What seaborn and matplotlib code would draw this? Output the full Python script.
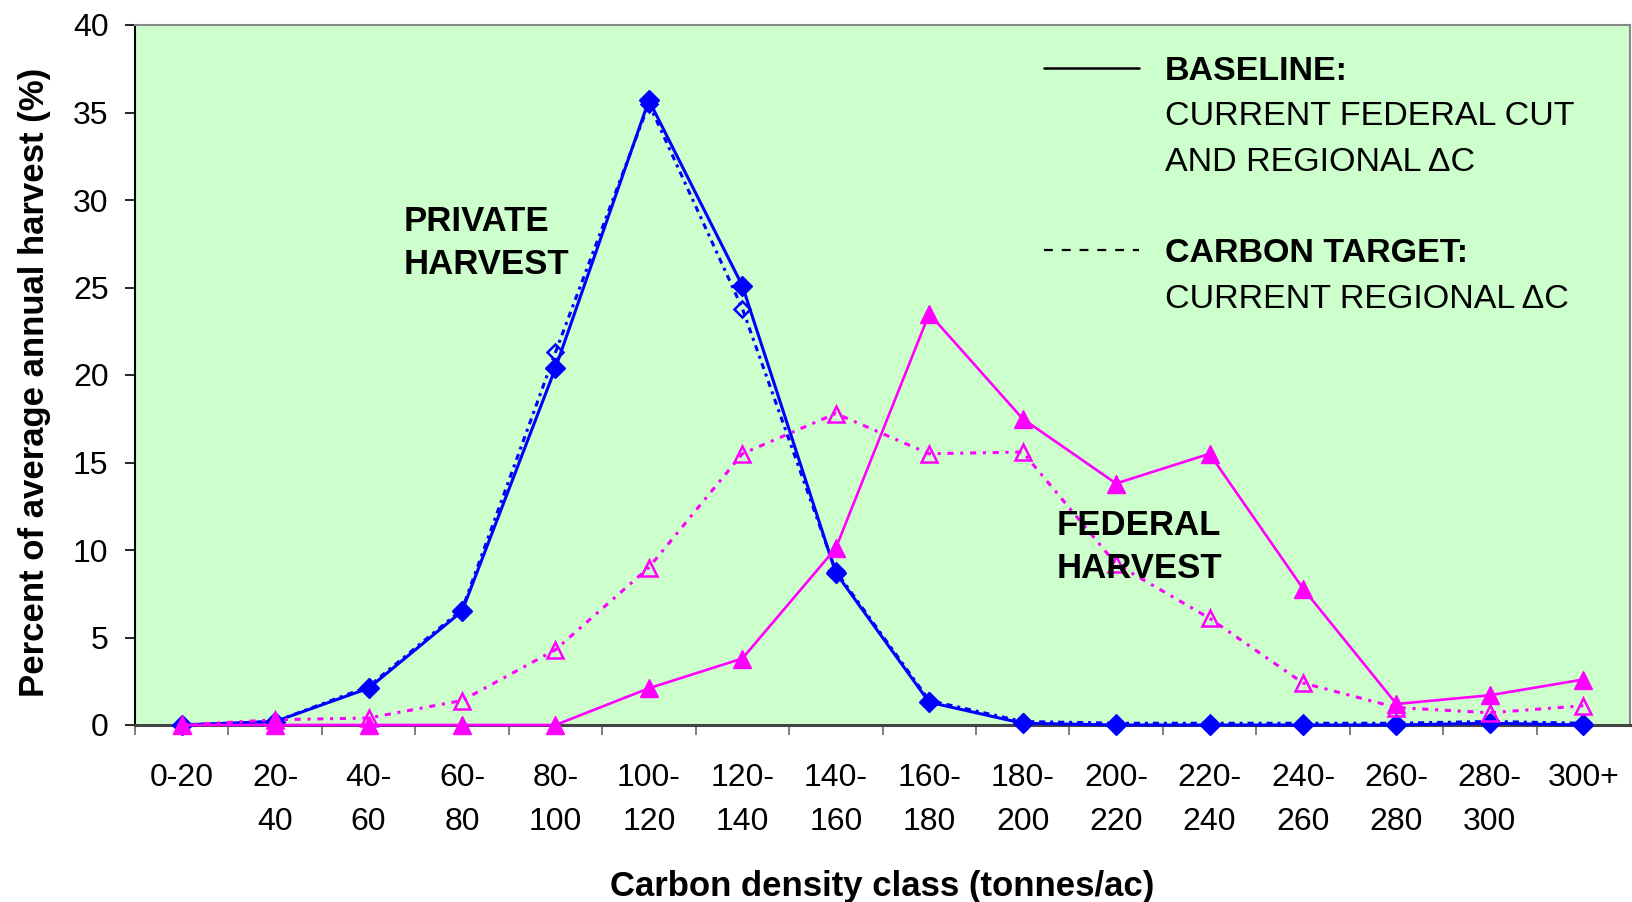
import numpy as np
import matplotlib
matplotlib.use("Agg")
import matplotlib.pyplot as plt
import seaborn as sns
from matplotlib.lines import Line2D

# ---------------- data ----------------
classes = ["0-20", "20-\n40", "40-\n60", "60-\n80", "80-\n100", "100-\n120", "120-\n140",
           "140-\n160", "160-\n180", "180-\n200", "200-\n220", "220-\n240", "240-\n260",
           "260-\n280", "280-\n300", "300+"]
private_baseline = [0.0, 0.2, 2.1, 6.5, 20.4, 35.7, 25.1, 8.7, 1.3, 0.1, 0.0, 0.0, 0.0, 0.0, 0.1, 0.0]
private_carbon = [0.0, 0.2, 2.2, 6.6, 21.3, 35.5, 23.8, 8.8, 1.4, 0.2, 0.1, 0.1, 0.1, 0.1, 0.2, 0.1]
federal_baseline = [0.0, 0.0, 0.0, 0.0, 0.0, 2.1, 3.8, 10.1, 23.5, 17.5, 13.8, 15.5, 7.8, 1.2, 1.7, 2.6]
federal_carbon = [0.0, 0.3, 0.4, 1.4, 4.3, 9.0, 15.5, 17.8, 15.5, 15.6, 9.2, 6.1, 2.4, 1.0, 0.7, 1.1]
y_ticks = [0, 5, 10, 15, 20, 25, 30, 35, 40]

BLUE = "#0000FF"
MAGENTA = "#FF00FF"
BG = "#CCFFCC"

sns.set_theme(style="ticks")
plt.rcParams["font.family"] = ["Liberation Sans", "DejaVu Sans"]
plt.rcParams["text.color"] = "black"
plt.rcParams["axes.labelcolor"] = "black"
plt.rcParams["xtick.color"] = "black"
plt.rcParams["ytick.color"] = "black"

fig, ax = plt.subplots(figsize=(16.32, 9.02), dpi=100)
fig.subplots_adjust(left=135 / 1632, right=1630 / 1632, top=1 - 25 / 902, bottom=1 - 725 / 902)
ax.set_facecolor(BG)

x = np.arange(len(classes))

sns.lineplot(x=x, y=private_baseline, ax=ax, color=BLUE, linewidth=2.2, marker="D",
             markersize=10.5, markerfacecolor=BLUE, markeredgecolor=BLUE, markeredgewidth=1,
             clip_on=False, zorder=3)
sns.lineplot(x=x, y=private_carbon, ax=ax, color=BLUE, linewidth=2.2, linestyle=(0, (2, 1.6, 1, 1.6)),
             marker="D", markersize=8, markerfacecolor="none", markeredgecolor=BLUE,
             markeredgewidth=1.8, clip_on=False, zorder=3)
sns.lineplot(x=x, y=federal_baseline, ax=ax, color=MAGENTA, linewidth=1.9, marker="^",
             markersize=13, markerfacecolor=MAGENTA, markeredgecolor=MAGENTA, markeredgewidth=1,
             clip_on=False, zorder=4)
sns.lineplot(x=x, y=federal_carbon, ax=ax, color=MAGENTA, linewidth=2.2, linestyle=(0, (2, 2.2, 1, 2.2)),
             marker="^", markersize=11, markerfacecolor="none", markeredgecolor=MAGENTA,
             markeredgewidth=1.8, clip_on=False, zorder=4)

ax.set_xlim(-0.5, len(classes) - 0.5)
ax.set_ylim(0, 40)
ax.set_yticks(y_ticks)
ax.set_yticklabels([str(v) for v in y_ticks])
ax.set_xticks(x)
ax.set_xticklabels(classes, linespacing=1.65)
ax.set_xticks(np.arange(-0.5, len(classes) - 0.5, 1), minor=True)
ax.tick_params(axis="x", which="major", length=0, pad=27, labelsize=23, labelcolor="black")
ax.tick_params(axis="x", which="minor", length=7, width=1.2, color="#666666", direction="out")
ax.tick_params(axis="y", which="major", length=7, width=1.2, color="black", pad=12,
               labelsize=23, labelcolor="black", direction="out")

for side in ["top", "right"]:
    ax.spines[side].set_visible(True)
    ax.spines[side].set_color("#888888")
    ax.spines[side].set_linewidth(1.5)
ax.spines["left"].set_color("black")
ax.spines["left"].set_linewidth(1.5)
ax.spines["bottom"].set_color("#444444")
ax.spines["bottom"].set_linewidth(2.2)
ax.grid(False)

ax.set_ylabel("Percent of average annual harvest (%)", fontsize=25, fontweight="bold", color="black")
ax.set_xlabel("Carbon density class (tonnes/ac)", fontsize=25, fontweight="bold", color="black")
ax.yaxis.set_label_coords(-0.0565, 0.49)
ax.xaxis.set_label_coords(0.5, -0.207)

ax.text(2.38, 25.77, "PRIVATE\nHARVEST", fontsize=25, fontweight="bold", va="baseline",
        ha="left", linespacing=1.37, zorder=5, color="black")
ax.text(9.36, 8.4, "FEDERAL\nHARVEST", fontsize=25, fontweight="bold", va="baseline",
        ha="left", linespacing=1.37, zorder=5, color="black")

blank = Line2D([], [], color="none")
handles = [Line2D([], [], color="black", linewidth=1.8),
           blank, blank, blank,
           Line2D([], [], color="black", linewidth=1.6, linestyle=(0, (4, 4))),
           blank]
labels = ["BASELINE:", "CURRENT FEDERAL CUT", "AND REGIONAL \u0394C", " ",
          "CARBON TARGET:", "CURRENT REGIONAL \u0394C"]
leg = ax.legend(handles, labels, loc="upper left", bbox_to_anchor=(0.608, 0.956),
                frameon=False, fontsize=24.5, handlelength=2.8, handletextpad=0.75,
                labelspacing=0.43, borderpad=0, borderaxespad=0)
for i, t in enumerate(leg.get_texts()):
    t.set_color("black")
    if i in (0, 4):
        t.set_fontweight("bold")

fig.savefig("out.png", dpi=100, facecolor="white")
